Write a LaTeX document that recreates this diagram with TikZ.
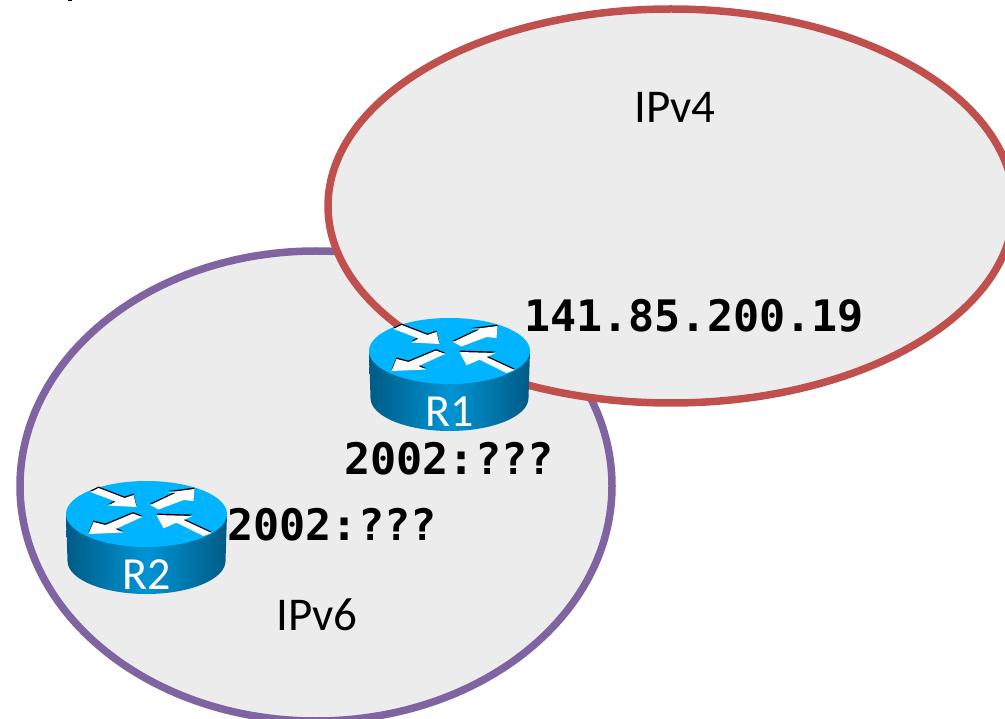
\documentclass[tikz,border=0pt]{standalone}
\usepackage{fontspec}
\setmainfont{Carlito}
\newfontfamily\addrfont[Scale=1]{DejaVu Sans Mono}
\usetikzlibrary{shapes.geometric}
\definecolor{zonefill}{HTML}{ECECEC}
\definecolor{redline}{HTML}{C0504D}
\definecolor{purpleline}{HTML}{8064A2}
\definecolor{routertop}{HTML}{00B4FF}
\definecolor{routerdark}{HTML}{005B85}
\definecolor{routermid}{HTML}{0094D4}
\tikzset{
  x=1pt,y=-1pt,
  zone/.style={ellipse,fill=zonefill,line width=7.5pt,inner sep=0pt,outer sep=0pt},
  zonelabel/.style={font=\fontsize{47}{50}\selectfont,text=black,inner sep=0pt},
  addr/.style={font=\addrfont\bfseries\fontsize{43.4}{48}\selectfont,text=black,inner sep=0pt},
  rname/.style={font=\fontsize{46}{50}\selectfont,text=white,inner sep=0pt},
  arrowshape/.style={fill=white},
  arrowedge/.style={fill=black},
  pics/router/.style={code={
    \shade[left color=routerdark,right color=routerdark,middle color=routermid]
      (-80.5,0) -- (-79,47) arc[start angle=180,end angle=0,x radius=79,y radius=33]
      -- (80.5,0) -- cycle;
    \fill[routertop] (0,0) ellipse[x radius=80.5,y radius=33];
    \foreach \dy/\st in {-1.4/arrowedge,0/arrowshape}{
      \begin{scope}[yshift=-\dy pt]
      \fill[\st] (-56,-22) -- (-48,-26) -- (-22,-16) -- (-13,-19) -- (-10,-7) -- (-38,-8.5) -- (-31,-12.5) -- cycle;
      \fill[\st] (3.7,-9) -- (30,-21.5) -- (21,-21.5) -- (48,-25) -- (47,-13) -- (37,-14) -- (12,-4.5) -- cycle;
      \fill[\st] (-4.5,3) -- (-13.5,-0.5) -- (-41,11) -- (-53,8) -- (-58,20) -- (-23.5,18.5) -- (-31,15) -- cycle;
      \fill[\st] (65,19) -- (57,22) -- (30,8.7) -- (17,14.3) -- (10,1) -- (46,2) -- (37,6) -- cycle;
      \end{scope}
    }
  }},
}
\begin{document}
\begin{tikzpicture}
\useasboundingbox (0,0) rectangle (1005,719);
\clip (0,0) rectangle (1005,719);
\fill[black] (68,0) rectangle (72,1.5);
\node[zone,draw=purpleline,minimum width=592pt,minimum height=470pt] (ipv6) at (316,486) {};
\node[zone,draw=redline,minimum width=686pt,minimum height=394pt] (ipv4) at (671,206) {};
\pic at (449.5,351) {router};
\pic at (146.5,514) {router};
\node[rname] (r1) at (450,412) {R1};
\node[rname] (r2) at (147,575) {R2};
\node[zonelabel] (l4) at (675,107) {IPv4};
\node[zonelabel] (l6) at (317,615) {IPv6};
\node[addr] (a4) at (694,316) {141.85.200.19};
\node[addr] (a1) at (449,459) {2002:???};
\node[addr] (a2) at (332,525) {2002:???};
\end{tikzpicture}
\end{document}
